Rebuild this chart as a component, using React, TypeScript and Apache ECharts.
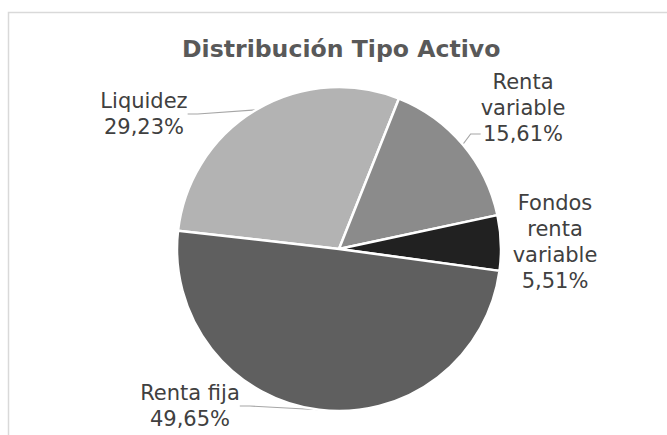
import React, { useEffect, useRef } from "react";
import * as echarts from "echarts";

const title = "Distribución Tipo Activo";
const categories = ["Liquidez", "Renta variable", "Fondos renta variable", "Renta fija"];
const labelTexts = ["Liquidez", "Renta\nvariable", "Fondos\nrenta\nvariable", "Renta fija"];
const values = [29.23, 15.61, 5.51, 49.65];
const colors = ["#b3b3b3", "#8b8b8b", "#212121", "#5f5f5f"];
const showLeader = [true, true, false, true];
const trailingBlank = [0, 2, 0, 0];
const labelPos = [
  [144, 114],
  [523, 134],
  [555, 242],
  [190, 406],
];

export default function App() {
  const ref = useRef<HTMLDivElement>(null);
  useEffect(() => {
    if (!ref.current) return;
    const chart = echarts.init(ref.current, null, { renderer: "svg" });
    chart.setOption({
      animation: false,
      backgroundColor: "#ffffff",
      title: {
        text: title,
        left: 182,
        top: 37,
        padding: 0,
        textStyle: {
          fontFamily: "DejaVu Sans",
          fontSize: 23.6,
          fontWeight: "bold",
          color: "#595959",
        },
      },
      graphic: [
        {
          type: "polyline",
          shape: { points: [[8.5, 435], [8.5, 12.5], [667, 12.5]] },
          style: { stroke: "#d9d9d9", lineWidth: 1.5, fill: null },
          silent: true,
        },
      ],
      series: [
        {
          type: "pie",
          center: [339, 249],
          radius: 162,
          startAngle: 173.5,
          clockwise: true,
          avoidLabelOverlap: false,
          itemStyle: { borderColor: "#ffffff", borderWidth: 2.5 },
          label: {
            show: true,
            position: "outside",
            fontFamily: "DejaVu Sans",
            fontSize: 21,
            lineHeight: 26,
            color: "#404040",
            align: "center",
            formatter: (p: any) =>
              labelTexts[p.dataIndex] +
              "\n" +
              values[p.dataIndex].toFixed(2).replace(".", ",") +
              "%" +
              "\n ".repeat(trailingBlank[p.dataIndex]),
          },
          labelLine: {
            show: true,
            length: 10,
            length2: 10,
            lineStyle: { color: "#a6a6a6", width: 1.2 },
          },
          labelLayout: (params: any) => ({
            x: labelPos[params.dataIndex][0],
            y: labelPos[params.dataIndex][1],
            align: "center",
            verticalAlign: "middle",
          }),
          data: categories.map((name, i) => ({
            name,
            value: values[i],
            itemStyle: { color: colors[i] },
            labelLine: { show: showLeader[i] },
          })),
        },
      ],
    });
    return () => chart.dispose();
  }, []);
  return (
    <div
      ref={ref}
      style={{ position: "absolute", left: 0, top: 0, width: 667, height: 435 }}
    />
  );
}
